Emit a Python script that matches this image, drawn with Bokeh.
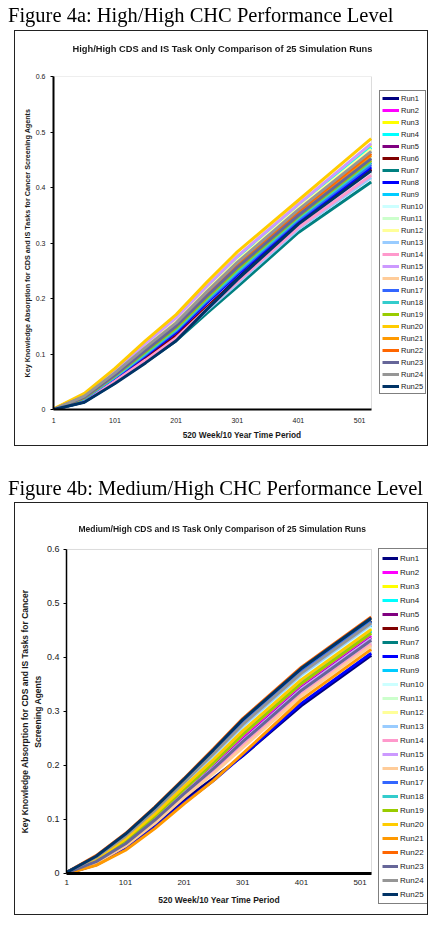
from bokeh.plotting import figure
from bokeh.models import Range1d, FixedTicker, Legend, LegendItem, Div, BoxAnnotation
from bokeh.embed import file_html
from bokeh.resources import INLINE

# ---------------- data ----------------
weeks = [1, 51, 101, 151, 201, 251, 301, 401, 520]
x_ticks = [1, 101, 201, 301, 401, 501]
y_ticks = [0, 0.1, 0.2, 0.3, 0.4, 0.5, 0.6]
y_tick_labels = {0: "0", 0.1: "0.1", 0.2: "0.2", 0.3: "0.3", 0.4: "0.4", 0.5: "0.5", 0.6: "0.6"}
run_names = ["Run1", "Run2", "Run3", "Run4", "Run5", "Run6", "Run7", "Run8", "Run9", "Run10",
             "Run11", "Run12", "Run13", "Run14", "Run15", "Run16", "Run17", "Run18", "Run19", "Run20",
             "Run21", "Run22", "Run23", "Run24", "Run25"]
run_colors = ["#000080", "#FF00FF", "#FFFF00", "#00FFFF", "#800080", "#800000", "#008080", "#0000FF",
              "#00CCFF", "#CCFFFF", "#CCFFCC", "#FFFF99", "#99CCFF", "#FF99CC", "#CC99FF", "#FFCC99",
              "#3366FF", "#33CCCC", "#99CC00", "#FFCC00", "#FF9900", "#FF6600", "#666699", "#969696",
              "#003366"]

# Figure 4a: High/High
hh_run1 = [0.000, 0.014, 0.049, 0.087, 0.128, 0.183, 0.236, 0.336, 0.433]
hh_run2 = [0.000, 0.021, 0.061, 0.104, 0.147, 0.201, 0.253, 0.348, 0.449]
hh_run3 = [0.001, 0.027, 0.070, 0.118, 0.164, 0.220, 0.275, 0.368, 0.476]
hh_run4 = [0.000, 0.026, 0.069, 0.116, 0.161, 0.218, 0.271, 0.365, 0.472]
hh_run5 = [0.000, 0.020, 0.059, 0.101, 0.144, 0.198, 0.249, 0.345, 0.445]
hh_run6 = [0.000, 0.017, 0.054, 0.093, 0.133, 0.184, 0.233, 0.336, 0.433]
hh_run7 = [0.000, 0.014, 0.048, 0.085, 0.124, 0.173, 0.221, 0.319, 0.410]
hh_run8 = [0.000, 0.019, 0.056, 0.097, 0.139, 0.192, 0.243, 0.339, 0.437]
hh_run9 = [0.000, 0.022, 0.062, 0.106, 0.149, 0.203, 0.256, 0.351, 0.453]
hh_run10 = [0.000, 0.023, 0.063, 0.108, 0.151, 0.206, 0.259, 0.354, 0.457]
hh_run11 = [0.000, 0.021, 0.060, 0.103, 0.146, 0.200, 0.252, 0.348, 0.449]
hh_run12 = [0.000, 0.025, 0.067, 0.114, 0.159, 0.215, 0.268, 0.363, 0.469]
hh_run13 = [0.000, 0.015, 0.050, 0.087, 0.127, 0.178, 0.227, 0.325, 0.418]
hh_run14 = [0.000, 0.015, 0.051, 0.089, 0.129, 0.181, 0.230, 0.328, 0.422]
hh_run15 = [0.000, 0.027, 0.071, 0.119, 0.165, 0.222, 0.276, 0.370, 0.479]
hh_run16 = [0.000, 0.022, 0.062, 0.105, 0.149, 0.203, 0.255, 0.351, 0.453]
hh_run17 = [0.000, 0.019, 0.058, 0.099, 0.142, 0.195, 0.246, 0.342, 0.441]
hh_run18 = [0.000, 0.020, 0.059, 0.101, 0.144, 0.198, 0.249, 0.345, 0.445]
hh_run19 = [0.000, 0.021, 0.061, 0.104, 0.147, 0.201, 0.253, 0.348, 0.449]
hh_run20 = [0.001, 0.029, 0.074, 0.124, 0.171, 0.229, 0.284, 0.377, 0.488]
hh_run21 = [0.000, 0.022, 0.062, 0.107, 0.151, 0.206, 0.260, 0.355, 0.458]
hh_run22 = [0.000, 0.023, 0.064, 0.110, 0.153, 0.209, 0.263, 0.357, 0.461]
hh_run23 = [0.000, 0.022, 0.062, 0.106, 0.150, 0.204, 0.256, 0.350, 0.452]
hh_run24 = [0.000, 0.024, 0.066, 0.112, 0.156, 0.212, 0.265, 0.360, 0.465]
hh_run25 = [0.000, 0.013, 0.047, 0.084, 0.124, 0.180, 0.234, 0.334, 0.430]

# Figure 4b: Medium/High
mh_run1 = [0.000, 0.017, 0.049, 0.091, 0.137, 0.176, 0.218, 0.311, 0.404]
mh_run2 = [0.001, 0.024, 0.059, 0.103, 0.153, 0.200, 0.251, 0.347, 0.440]
mh_run3 = [0.001, 0.028, 0.065, 0.111, 0.162, 0.212, 0.265, 0.361, 0.454]
mh_run4 = [0.001, 0.027, 0.063, 0.109, 0.160, 0.209, 0.262, 0.357, 0.450]
mh_run5 = [0.001, 0.023, 0.057, 0.101, 0.150, 0.197, 0.247, 0.343, 0.436]
mh_run6 = [0.002, 0.031, 0.071, 0.119, 0.171, 0.225, 0.280, 0.375, 0.468]
mh_run7 = [0.002, 0.030, 0.070, 0.118, 0.170, 0.224, 0.279, 0.374, 0.467]
mh_run8 = [0.000, 0.016, 0.045, 0.085, 0.131, 0.172, 0.219, 0.315, 0.408]
mh_run9 = [0.002, 0.029, 0.067, 0.114, 0.166, 0.217, 0.271, 0.366, 0.459]
mh_run10 = [0.002, 0.029, 0.066, 0.113, 0.164, 0.216, 0.269, 0.364, 0.457]
mh_run11 = [0.001, 0.026, 0.062, 0.107, 0.157, 0.206, 0.258, 0.354, 0.447]
mh_run12 = [0.001, 0.026, 0.061, 0.106, 0.156, 0.205, 0.258, 0.353, 0.446]
mh_run13 = [0.002, 0.029, 0.068, 0.115, 0.167, 0.219, 0.273, 0.368, 0.461]
mh_run14 = [0.001, 0.020, 0.052, 0.095, 0.143, 0.188, 0.237, 0.332, 0.425]
mh_run15 = [0.001, 0.023, 0.056, 0.100, 0.149, 0.196, 0.246, 0.342, 0.435]
mh_run16 = [0.000, 0.020, 0.051, 0.093, 0.141, 0.185, 0.233, 0.329, 0.422]
mh_run17 = [0.002, 0.031, 0.070, 0.118, 0.170, 0.224, 0.278, 0.373, 0.466]
mh_run18 = [0.001, 0.026, 0.062, 0.108, 0.158, 0.207, 0.260, 0.355, 0.448]
mh_run19 = [0.001, 0.025, 0.061, 0.106, 0.156, 0.205, 0.257, 0.352, 0.445]
mh_run20 = [0.001, 0.027, 0.064, 0.110, 0.161, 0.211, 0.264, 0.359, 0.452]
mh_run21 = [0.000, 0.015, 0.043, 0.083, 0.129, 0.172, 0.222, 0.322, 0.415]
mh_run22 = [0.002, 0.033, 0.074, 0.123, 0.176, 0.231, 0.287, 0.382, 0.475]
mh_run23 = [0.001, 0.022, 0.055, 0.099, 0.148, 0.194, 0.244, 0.339, 0.432]
mh_run24 = [0.002, 0.030, 0.069, 0.117, 0.169, 0.222, 0.276, 0.371, 0.464]
mh_run25 = [0.002, 0.032, 0.073, 0.122, 0.175, 0.229, 0.285, 0.380, 0.473]

hh_runs = [hh_run1, hh_run2, hh_run3, hh_run4, hh_run5, hh_run6, hh_run7, hh_run8, hh_run9, hh_run10,
           hh_run11, hh_run12, hh_run13, hh_run14, hh_run15, hh_run16, hh_run17, hh_run18, hh_run19,
           hh_run20, hh_run21, hh_run22, hh_run23, hh_run24, hh_run25]
mh_runs = [mh_run1, mh_run2, mh_run3, mh_run4, mh_run5, mh_run6, mh_run7, mh_run8, mh_run9, mh_run10,
           mh_run11, mh_run12, mh_run13, mh_run14, mh_run15, mh_run16, mh_run17, mh_run18, mh_run19,
           mh_run20, mh_run21, mh_run22, mh_run23, mh_run24, mh_run25]

SANS = "Liberation Sans"
SERIF = "Liberation Serif"
TXT = "#1a1a1a"
X_LO, X_HI = 0.5, 520.5    # category extent of the 520 weeks
Y_LO, Y_HI = 0, 0.6


def make_chart(runs, cfg):
    # the frame is widened (right, and for 4b also left/down) so that the legend and the
    # fixed-location axes sit inside it; the visible plot box is the 0.5..520.5 x 0..0.6 extent
    p = figure(width=437, height=cfg["height"], x_range=Range1d(cfg["x_start"], cfg["x_end"]),
               y_range=Range1d(cfg["y_start"], cfg["y_end"]),
               output_backend="svg", toolbar_location=None, title=None,
               min_border_left=cfg["bl"], min_border_right=7,
               min_border_top=cfg["bt"], min_border_bottom=cfg["bb"])
    p.xgrid.visible = False
    p.ygrid.visible = False
    p.outline_line_color = None
    p.background_fill_color = "white"
    p.border_fill_color = "white"
    p.add_layout(BoxAnnotation(left=X_LO, right=X_HI, bottom=Y_LO, top=Y_HI, fill_alpha=0,
                               line_color="#8c8c8c", line_width=1, level="underlay"))

    xa = p.xaxis[0]
    xa.ticker = FixedTicker(ticks=x_ticks)
    xa.bounds = (X_LO, X_HI)
    if cfg["fixed_axes"]:
        xa.fixed_location = Y_LO
    xa.major_tick_in = 0
    xa.major_tick_out = 0
    xa.minor_tick_line_color = None
    xa.axis_line_color = "black"
    xa.axis_line_width = cfg["xaxis_w"]
    xa.major_label_text_font = SANS
    xa.major_label_text_font_size = cfg["xtick_fs"]
    xa.major_label_text_color = TXT
    xa.major_label_standoff = cfg["xtick_so"]
    xa.axis_label = "520 Week/10 Year Time Period"
    xa.axis_label_text_font = SANS
    xa.axis_label_text_font_style = "bold"
    xa.axis_label_text_font_size = cfg["xlab_fs"]
    xa.axis_label_text_color = TXT
    xa.axis_label_standoff = cfg["xlab_so"]

    ya = p.yaxis[0]
    ya.ticker = FixedTicker(ticks=y_ticks)
    ya.bounds = (Y_LO, Y_HI)
    if cfg["fixed_axes"]:
        ya.fixed_location = X_LO
    ya.major_label_overrides = y_tick_labels
    ya.major_tick_in = 0
    ya.major_tick_out = 3
    ya.major_tick_line_color = "black"
    ya.minor_tick_line_color = None
    ya.axis_line_color = "black"
    ya.axis_line_width = cfg["yaxis_w"]
    ya.major_label_text_font = SANS
    ya.major_label_text_font_size = cfg["ytick_fs"]
    ya.major_label_text_color = TXT
    ya.major_label_standoff = cfg["ytick_so"]
    ya.axis_label = cfg["ylabel"]
    ya.axis_label_text_font = SANS
    ya.axis_label_text_font_style = "bold"
    ya.axis_label_text_font_size = cfg["ylab_fs"]
    ya.axis_label_text_color = TXT
    ya.axis_label_standoff = cfg["ylab_so"]
    ya.axis_label_text_line_height = 1.3

    items = []
    for name, color, vals in zip(run_names, run_colors, runs):
        r = p.line(weeks, vals, line_color=color, line_width=3)
        items.append(LegendItem(label=name, renderers=[r]))

    leg = Legend(items=items, location=cfg["leg_loc"], glyph_height=cfg["leg_h"], label_height=cfg["leg_h"],
                 glyph_width=cfg["leg_gw"], spacing=2, padding=cfg["leg_pad"], label_standoff=2,
                 label_text_font=SANS, label_text_font_size=cfg["leg_fs"], label_text_color=TXT,
                 border_line_color="black", border_line_width=1, background_fill_color="white",
                 background_fill_alpha=1.0, margin=0)
    p.add_layout(leg, "center")
    return p


# page layout: chart A occupies y 0..447, chart B y 447..918
cfg_a = dict(height=447, bl=53, bt=76, bb=38, x_start=X_LO, x_end=616.98, y_start=Y_LO, y_end=Y_HI,
             fixed_axes=False, xaxis_w=2, yaxis_w=2,
             xtick_fs="7px", xtick_so=8, xlab_fs="8.3px", xlab_so=4,
             ytick_fs="7px", ytick_so=5, ylab_fs="7.2px", ylab_so=1,
             ylabel="Key Knowledge Absorption for CDS and IS Tasks for Cancer Screening Agents",
             leg_loc=(326, 15), leg_h=10, leg_gw=17, leg_pad=2, leg_fs="7.5px")

cfg_b = dict(height=471, bl=16, bt=98, bb=11, x_start=-84.75, x_end=621.09, y_start=-0.063, y_end=0.6074,
             fixed_axes=True, xaxis_w=3, yaxis_w=1.5,
             xtick_fs="8px", xtick_so=7, xlab_fs="8.5px", xlab_so=6,
             ytick_fs="9px", ytick_so=4, ylab_fs="8.5px", ylab_so=1,
             ylabel="Key Knowledge Absorption for CDS and IS Tasks for Cancer\nScreening Agents",
             leg_loc=(362, 3), leg_h=12, leg_gw=16, leg_pad=3, leg_fs="8px")

pa = make_chart(hh_runs, cfg_a)
pb = make_chart(mh_runs, cfg_b)


def fixed_box(left, top, width, height):
    return ('<div style="position:fixed;left:%dpx;top:%dpx;width:%dpx;height:%dpx;'
            'border:1.5px solid #222222;box-sizing:content-box;z-index:5;pointer-events:none;'
            'margin:0;padding:0"></div>' % (left, top, width, height))


def fixed_text(text, left, top, font, size, weight, lh, color):
    return ('<div style="position:fixed;left:%spx;top:%spx;font-family:\'%s\';font-size:%s;'
            'font-weight:%s;line-height:%dpx;white-space:nowrap;color:%s;z-index:6;margin:0;padding:0">'
            '%s</div>' % (left, top, font, size, weight, lh, color, text))


overlay_html = "".join([
    fixed_box(14, 30, 412, 414),
    fixed_box(14, 502, 412, 411),
    fixed_text("Figure 4a: High/High CHC Performance Level", 8, 0, SERIF, "20.5px", "normal", 31, "black"),
    fixed_text("Figure 4b: Medium/High CHC Performance Level", 8, 473, SERIF, "20.5px", "normal", 31, "black"),
    fixed_text("High/High CDS and IS Task Only Comparison of 25 Simulation Runs", 72.5, 41.5, SANS, "9.3px",
               "bold", 14, TXT),
    fixed_text("Medium/High CDS and IS Task Only Comparison of 25 Simulation Runs", 78.5, 521.5, SANS, "8.5px",
               "bold", 14, TXT),
])
overlay = Div(text=overlay_html, width=437, height=1, margin=(0, 0, 0, 0))

open("out.html", "w").write(file_html([pa, pb, overlay], INLINE))
